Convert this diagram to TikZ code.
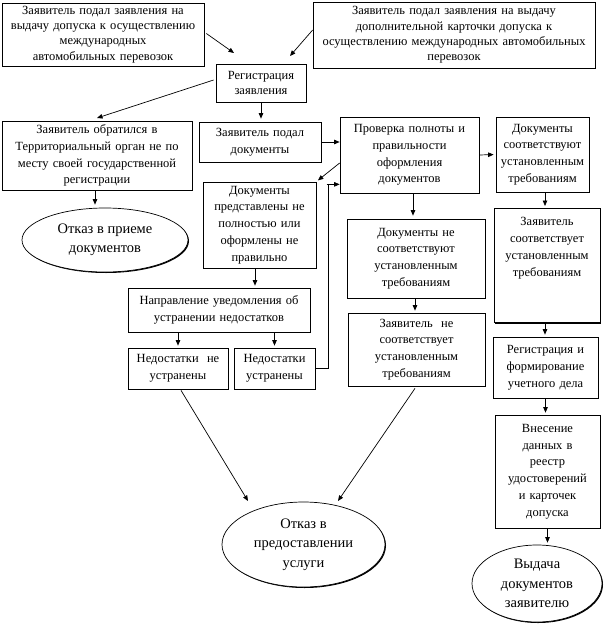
\documentclass[tikz,border=0pt]{standalone}
\usepackage{fontspec}
\setmainfont{Liberation Serif}
\usetikzlibrary{shapes.geometric,shadows,arrows.meta,calc}
\tikzset{
  box/.style={draw, fill=white, line width=0.7pt, align=center, inner sep=2pt,
    font=\fontsize{12.5}{16.8}\selectfont,
    drop shadow={shadow xshift=1.3pt, shadow yshift=-1.3pt, fill=black, opacity=1}},
  tight/.style={font=\fontsize{12.5}{15.3}\selectfont},
  oval/.style={ellipse, draw, fill=white, line width=0.7pt, align=center, inner sep=0pt,
    font=\fontsize{14.5}{19.5}\selectfont,
    drop shadow={shadow xshift=1pt, shadow yshift=-1pt, fill=black, opacity=1}},
  arr/.style={-{Triangle[length=5.5pt,width=4.5pt]}, line width=0.7pt},
  ln/.style={line width=0.7pt}
}
\begin{document}
\begin{tikzpicture}[x=1pt,y=-1pt]
\useasboundingbox (0,0) rectangle (605,626);

% top row
\node[box, tight, minimum width=202pt, minimum height=63pt, text width=196pt] (tl) at (103,34.5)
  {Заявитель подал заявления на\\ выдачу допуска к осуществлению\\ международных\\ автомобильных перевозок};
\node[box, tight, minimum width=282pt, minimum height=66pt, text width=276pt] (tr) at (454,35)
  {Заявитель подал заявления на выдачу\\ дополнительной карточки допуска к\\ осуществлению международных автомобильных\\ перевозок};
\node[box, tight, minimum width=90pt, minimum height=38pt, text width=84pt] (reg) at (261,83)
  {Регистрация\\ заявления};

% second row
\node[box, minimum width=190pt, minimum height=69pt, text width=184pt] (obr) at (97,155.5)
  {Заявитель обратился в\\ Территориальный орган не по\\ месту своей государственной\\ регистрации};
\node[box, minimum width=122pt, minimum height=40pt, text width=116pt] (podal) at (260,142)
  {Заявитель подал\\ документы};
\node[box, minimum width=139pt, minimum height=76pt, text width=133pt] (prov) at (409.5,155)
  {Проверка полноты и\\ правильности\\ оформления\\ документов};
\node[box, minimum width=93pt, minimum height=75pt, text width=89pt] (dsoot) at (542.5,154.5)
  {Документы\\ соответствуют\\ установленным\\ требованиям};

% left column
\node[oval, minimum width=166pt, minimum height=64pt] (otk1) at (105,240)
  {Отказ в приеме\\ документов};
\node[box, minimum width=113pt, minimum height=86pt, text width=107pt] (dpred) at (259.5,225)
  {Документы\\ представлены не\\ полностью или\\ оформлены не\\ правильно};
\node[box, minimum width=182pt, minimum height=44pt, text width=176pt] (napr) at (219,310)
  {Направление уведомления об\\ устранении недостатков};
\node[box, minimum width=100pt, minimum height=41pt, text width=94pt] (nne) at (178,368.5)
  {Недостатки\ \ не\\ устранены};
\node[box, minimum width=81pt, minimum height=41pt, text width=75pt] (nust) at (274.5,368.5)
  {Недостатки\\ устранены};

% middle column
\node[box, minimum width=138pt, minimum height=79pt, text width=132pt] (dnes) at (416,258.5)
  {Документы не\\ соответствуют\\ установленным\\ требованиям};
\node[box, minimum width=137pt, minimum height=73pt, text width=131pt] (znes) at (416.5,349.5)
  {Заявитель\ \ не\\ соответствует\\ установленным\\ требованиям};
\node[oval, minimum width=163pt, minimum height=85pt] (otk2) at (303.5,544.5)
  {Отказ в\\ предоставлении\\ услуги};

% right column
\node[box, minimum width=106pt, minimum height=114pt, text width=100pt, anchor=north] (zsoot) at (547,208)
  {\rule{0pt}{12pt}Заявитель\\ соответствует\\ установленным\\ требованиям\\[24pt]\mbox{}};
\node[box, minimum width=105pt, minimum height=61pt, text width=99pt] (rform) at (545.5,367.5)
  {Регистрация и\\ формирование\\ учетного дела};
\node[box, minimum width=105pt, minimum height=113pt, text width=99pt] (vnes) at (547.5,471.5)
  {Внесение\\ данных в\\ реестр\\ удостоверений\\ и карточек\\ допуска};
\node[oval, minimum width=130pt, minimum height=77pt] (vyd) at (537,583.5)
  {Выдача\\ документов\\ заявителю};

% helper coordinates
\coordinate (c1) at (234,53);
\coordinate (c2) at (290,56);
\coordinate (c3) at (97,118);
\coordinate (c4) at (248,501);
\coordinate (c5) at (338,501);
\path (tl.east) ++(2,-1) coordinate (s1);
\path (tr.west) ++(0,-5) coordinate (s2);
\path (reg.west) ++(-2,-3) coordinate (s3);
\path (prov.west) ++(0,8) coordinate (s4);
\path (prov.south) ++(3.5,0) coordinate (s5);
\path (dnes.south) ++(-1,0) coordinate (s6);
\path (dsoot.south) ++(2.5,0) coordinate (s7);
\path (zsoot.south) ++(-2,0) coordinate (s8);
\path (obr.south) ++(-2,0) coordinate (s9);
\path (dpred.south) ++(-4.5,0) coordinate (s10);
\path (prov.south west) ++(0,-9) coordinate (r1);
\path (r1) ++(-13,0) coordinate (r2);
\path (nne.south) ++(3,1) coordinate (s11);
\path (znes.south) ++(-1.5,2) coordinate (s12);

% connectors
\draw[arr] (s1) -- (c1);
\draw[arr] (s2) -- (c2);
\draw[arr] (s3) -- (c3);
\draw[arr, shorten >=3pt] (reg.south) -- (reg.south |- podal.north);
\draw[arr] (podal.east) -- (podal.east -| prov.west);
\draw[arr, shorten >=2pt] (s4) -- (dpred.north east);
\draw[arr, shorten >=2pt] (prov.east) -- (dsoot.west);
\draw[arr, shorten >=3pt] (s5) -- (s5 |- dnes.north);
\draw[arr, shorten >=2pt] (s6) -- (s6 |- znes.north);
\draw[arr, shorten >=2pt] (s7) -- (s7 |- zsoot.north);
\draw[arr, shorten >=2pt] (s8) -- (s8 |- rform.north);
\draw[arr, shorten >=2pt] (rform.south) -- (rform.south |- vnes.north);
\draw[arr, shorten >=2pt] (vnes.south) -- (vnes.south |- vyd.north);
\draw[arr, shorten >=3pt] (s9) -- (s9 |- otk1.north);
\draw[arr, shorten >=2pt] (s10) -- (s10 |- napr.north);
\draw[arr, shorten >=2pt] (napr.south -| nne.north) -- (nne.north);
\draw[arr, shorten >=2pt] (napr.south -| nust.north) -- (nust.north);
\draw[ln] (nust.east) -- ++(13,0) |- (r2);
\draw[arr] (r2) -- (r1);
\draw[arr] (s11) -- (c4);
\draw[arr] (s12) -- (c5);
\end{tikzpicture}
\end{document}
